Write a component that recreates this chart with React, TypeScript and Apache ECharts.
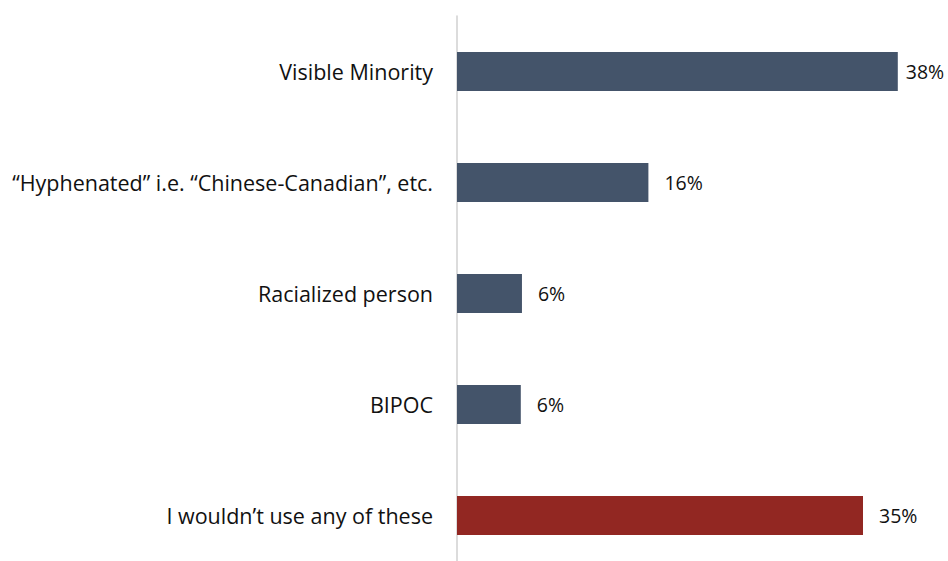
import React, { useEffect, useRef } from "react";
import * as echarts from "echarts";

const categories = [
  "Visible Minority",
  "“Hyphenated” i.e. “Chinese-Canadian”, etc.",
  "Racialized person",
  "BIPOC",
  "I wouldn’t use any of these",
];
const values = [38, 16.5, 5.6, 5.5, 35];
const valueLabels = ["38%", "16%", "6%", "6%", "35%"];
const barColors = ["#44546A", "#44546A", "#44546A", "#44546A", "#922722"];
const labelDistances = [8, 16, 16, 16, 16];

const FONT = "'Open Sans', sans-serif";

export default function App() {
  const ref = useRef<HTMLDivElement>(null);
  useEffect(() => {
    if (!ref.current) return;
    const chart = echarts.init(ref.current, undefined, { renderer: "svg" });
    chart.setOption({
      animation: false,
      textStyle: { fontFamily: FONT },
      grid: { left: 457, right: 27, top: 16, bottom: 0, containLabel: false },
      xAxis: {
        type: "value",
        min: 0,
        max: 40,
        show: false,
      },
      yAxis: {
        type: "category",
        inverse: true,
        data: categories,
        axisLine: { show: true, lineStyle: { color: "#d0d0d0", width: 1.5 } },
        axisTick: { show: false },
        axisLabel: {
          margin: 24,
          fontSize: 21.5,
          color: "#111",
          fontFamily: FONT,
        },
        splitLine: { show: false },
      },
      series: [
        {
          type: "bar",
          barWidth: 39,
          data: values.map((v, i) => ({
            value: v,
            itemStyle: { color: barColors[i] },
            label: {
              show: true,
              position: "right",
              distance: labelDistances[i],
              formatter: valueLabels[i],
              fontSize: 19.5,
              color: "#111",
              fontFamily: FONT,
            },
          })),
        },
      ],
    });
    return () => chart.dispose();
  }, []);
  return (
    <div style={{ position: "absolute", left: 0, top: 0, width: 948, height: 561, overflow: "hidden" }}>
      <div ref={ref} style={{ width: 948, height: 571 }} />
    </div>
  );
}
